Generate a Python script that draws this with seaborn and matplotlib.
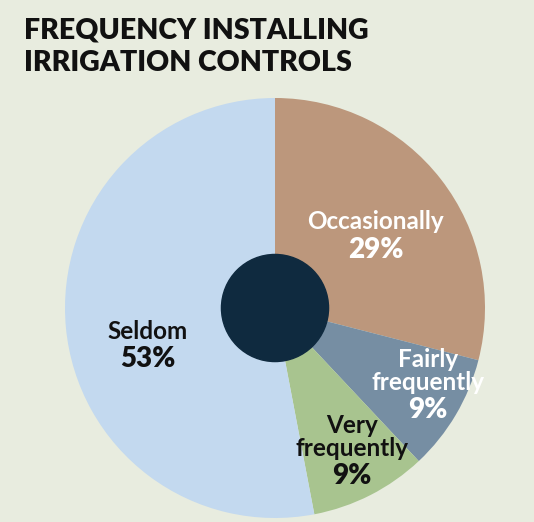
import numpy as np
import matplotlib
matplotlib.use("Agg")
import matplotlib.pyplot as plt
import seaborn as sns

# Data
categories = ["Occasionally", "Fairly\nfrequently", "Very\nfrequently", "Seldom"]
shares = [29, 9, 9, 53]
pct_labels = ["29%", "9%", "9%", "53%"]

sns.set_theme(style="white")
plt.rcParams['font.family'] = ['Lato', 'DejaVu Sans']

bg = "#e8ecdf"
colors = ["#bc977c", "#768ea3", "#a8c48f", "#c3d9ef"]
text_colors = ["white", "white", "#111111", "#111111"]
label_r = [0.59, 0.84, 0.82, 0.63]
angle_shift = [-2, 0.6, -0.6, 10.8]

fig = plt.figure(figsize=(5.34, 5.22), dpi=100, facecolor=bg)
W, H = 534, 522
cx, cy, R = 275, 308, 210
ax = fig.add_axes([(cx - R) / W, (H - cy - R) / H, 2 * R / W, 2 * R / H])
ax.set_facecolor(bg)

wedges, _ = ax.pie(shares, colors=colors, startangle=90, counterclock=False,
                   radius=1, wedgeprops=dict(linewidth=0))
ax.add_patch(plt.Circle((0, 0), 0.255, color="#0f2a3f", zorder=5))
ax.set_xlim(-1, 1)
ax.set_ylim(-1, 1)
ax.axis("off")

# Labels inside the slices
for w, cat, pct, tc, r, sh in zip(wedges, categories, pct_labels, text_colors, label_r, angle_shift):
    ang = np.deg2rad((w.theta1 + w.theta2) / 2 + sh)
    x, y = r * np.cos(ang), r * np.sin(ang)
    ax.text(x, y + 0.01, cat, color=tc, fontsize=17.5, fontweight="bold",
            ha="center", va="bottom", linespacing=1.0)
    ax.text(x, y - 0.005, pct, color=tc, fontsize=20, fontweight="heavy",
            ha="center", va="top")

fig.text(24 / W, 1 - 18 / H, "FREQUENCY INSTALLING\nIRRIGATION CONTROLS",
         fontsize=20.5, fontweight="heavy", color="#111111",
         ha="left", va="top", linespacing=1.3)

fig.savefig("out.png", dpi=100, facecolor=bg)
